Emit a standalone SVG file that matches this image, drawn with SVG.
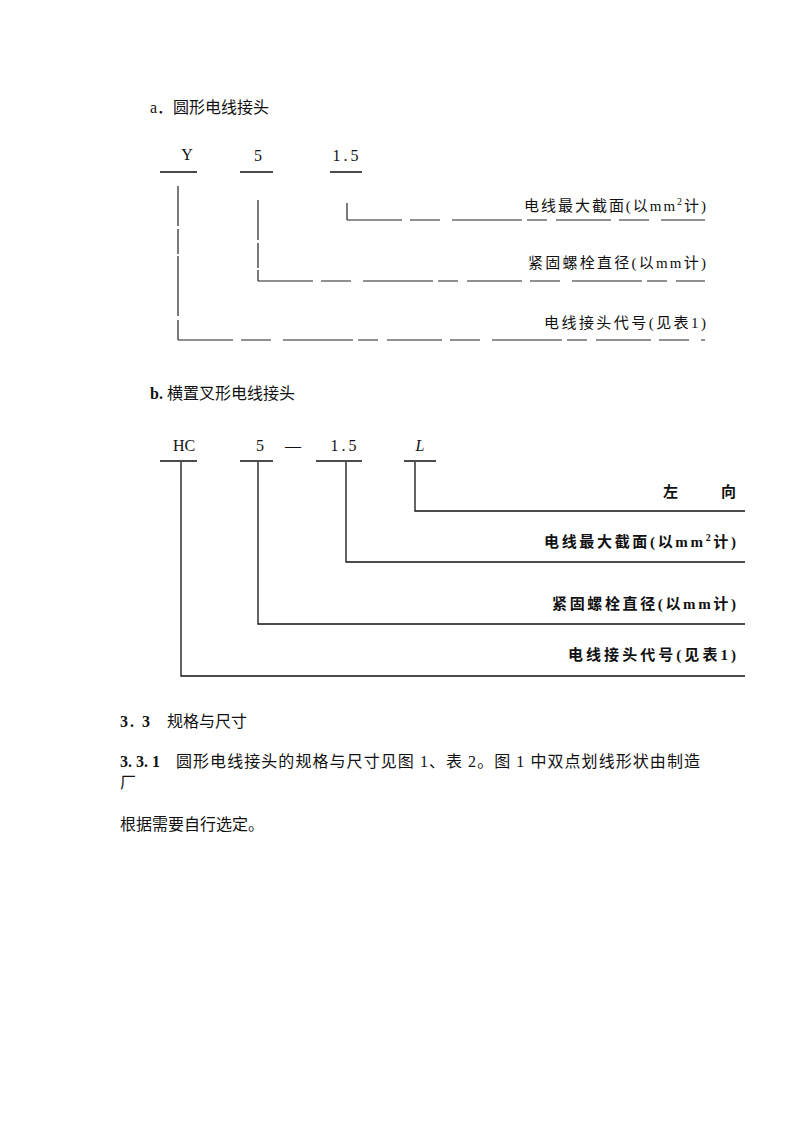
<svg xmlns="http://www.w3.org/2000/svg" width="793" height="1122" viewBox="0 0 793 1122">
<style>
text{font-family:"Liberation Serif","Noto Sans CJK SC",serif;fill:#111}
.h{font-size:16px}
.t{font-size:16px}
.code{font-size:16px}
.lbl{font-size:15px;text-anchor:end}
.b{font-weight:bold}
.ln{stroke:#111;stroke-width:1.3;fill:none}
.dv{stroke:#222;stroke-width:1.2;fill:none;stroke-dasharray:40 3 25 2 60 4}
.dh{stroke:#222;stroke-width:1.2;fill:none;stroke-dasharray:55 8 30 12 70 5 20 9}
</style>
<rect width="793" height="1122" fill="#fff"/>
<g id="title-a"><text class="h" x="150" y="113">a．圆形电线接头</text></g>
<g id="code-a">
<text class="code" x="187" y="160" text-anchor="middle">Y</text>
<text class="code" x="258" y="161" text-anchor="middle">5</text>
<text class="code" x="347" y="161" text-anchor="middle" letter-spacing="3">1.5</text>
</g>
<g id="labels-a">
<text class="lbl" x="706" y="211" textLength="182">电线最大截面(以mm<tspan font-size="10" dy="-6">2</tspan><tspan dy="6">计)</tspan></text>
<text class="lbl" x="706" y="268" textLength="178">紧固螺栓直径(以mm计)</text>
<text class="lbl" x="706" y="328" textLength="162">电线接头代号(见表1)</text>
</g>
<g id="connectors-a">
<path class="ln" d="M160 172H197M240 172H273M330 172H362"/>
<path class="dv" d="M178 186V340"/>
<path class="dh" d="M178 340H705"/>
<path class="dv" d="M258 200V281"/>
<path class="dh" d="M258 281H705"/>
<path class="dv" d="M347 203V220"/>
<path class="dh" d="M347 220H705"/>
</g>
<g id="title-b"><text class="h" x="150" y="399"><tspan class="b">b.</tspan> 横置叉形电线接头</text></g>
<g id="code-b">
<text class="code" x="184" y="451" text-anchor="middle">HC</text>
<text class="code" x="260" y="451" text-anchor="middle">5</text>
<text class="code" x="293" y="451" text-anchor="middle">—</text>
<text class="code" x="345" y="451" text-anchor="middle" letter-spacing="3">1.5</text>
<text class="code" x="420" y="451" text-anchor="middle" font-style="italic">L</text>
</g>
<g id="labels-b">
<text class="lbl b" x="678" y="497">左</text>
<text class="lbl b" x="736" y="497">向</text>
<text class="lbl b" x="736" y="547" textLength="192">电线最大截面(以mm<tspan font-size="10" dy="-6">2</tspan><tspan dy="6">计)</tspan></text>
<text class="lbl b" x="736" y="609" textLength="184">紧固螺栓直径(以mm计)</text>
<text class="lbl b" x="736" y="660" textLength="168">电线接头代号(见表1)</text>
</g>
<g id="connectors-b">
<path class="ln" d="M160 461H197M240 461H273M316 461H362M404 461H436"/>
<path class="ln" d="M181 462V676H745"/>
<path class="ln" d="M258 462V624H745"/>
<path class="ln" d="M346 462V562H745"/>
<path class="ln" d="M415 462V511H745"/>
</g>
<g id="text-body">
<text class="t" x="120" y="727"><tspan class="b" letter-spacing="2">3. 3</tspan><tspan x="167">规格与尺寸</tspan></text>
<text class="t" x="120" y="767"><tspan class="b">3. 3. 1</tspan></text>
<text class="t" x="176" y="767" textLength="524">圆形电线接头的规格与尺寸见图 1、表 2。图 1 中双点划线形状由制造</text>
<text class="t" x="120" y="788">厂</text>
<text class="t" x="120" y="830">根据需要自行选定。</text>
</g>
</svg>
